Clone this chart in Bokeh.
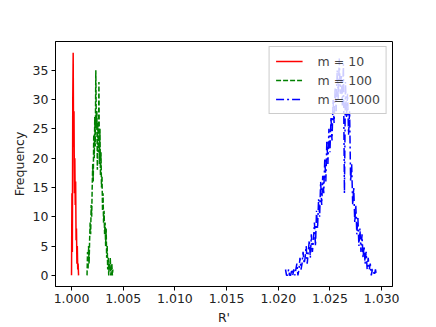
import numpy as np
from bokeh.plotting import figure
from bokeh.models import Range1d, FixedTicker, NumeralTickFormatter, Legend, LegendItem
from bokeh.embed import file_html
from bokeh.resources import INLINE

# ---- data (histogram counts) ----
red_start, red_step = 1.00000, 0.00004
red_counts = [0, 14, 4, 30, 38, 22, 28, 14, 20, 12, 16, 6, 8, 2, 5, 1, 2, 0]

green_start, green_step = 1.00150, 0.00005
green_counts = [0, 4, 1, 5, 2, 6, 9, 7, 12, 10, 15, 19, 16, 24, 20, 27, 22, 35, 25, 28,
                18, 26, 21, 33, 19, 25, 17, 21, 15, 17, 11, 14, 9, 11, 7, 9, 5, 8, 3, 5,
                1, 3, 0, 2, 1, 3, 0, 1, 2, 0, 1]

blue_start, blue_step = 1.02070, 0.00010
blue_counts = [1, 0, 0, 1, 0, 0, 1, 0, 1, 0, 1, 2, 0, 1, 3, 1, 2, 4, 2, 3,
               5, 2, 4, 6, 3, 7, 4, 6, 9, 5, 11, 8, 13, 10, 16, 12, 17, 14, 20, 16,
               23, 19, 25, 21, 27, 23, 30, 26, 32, 28, 35, 30, 37, 31, 34, 29, 36, 14, 33, 27,
               31, 24, 28, 16, 19, 12, 15, 9, 12, 7, 10, 5, 8, 4, 7, 3, 5, 2, 4, 1,
               3, 1, 2, 0, 1, 1, 0, 1, 0]

labels = ["m = 10", "m = 100", "m = 1000"]
colors = ["#ff0000", "#008000", "#0000ff"]
dashes = ["solid", "5 2", "8 3 2 3"]
x_ticks = [1.000, 1.005, 1.010, 1.015, 1.020, 1.025, 1.030]
y_ticks = [0, 5, 10, 15, 20, 25, 30, 35]


def bin_x(start, step, counts):
    return list(start + step * np.arange(len(counts)))


FONT = "DejaVu Sans"
FS = "12.5px"

p = figure(width=436, height=327, output_backend="svg", toolbar_location=None,
           x_range=Range1d(0.99845, 1.03105), y_range=Range1d(-1.9, 39.9),
           min_border_left=55, min_border_right=44, min_border_top=41, min_border_bottom=37)

series = [(red_start, red_step, red_counts), (green_start, green_step, green_counts),
          (blue_start, blue_step, blue_counts)]
items = []
for (st, sp, cnt), lab, col, dsh in zip(series, labels, colors, dashes):
    r = p.line(bin_x(st, sp, cnt), cnt, line_color=col, line_width=1.5, line_dash=dsh)
    items.append(LegendItem(label=lab, renderers=[r]))

p.xgrid.visible = False
p.ygrid.visible = False
p.outline_line_color = "black"
p.outline_line_width = 1
p.background_fill_color = "white"
p.border_fill_color = "white"

p.xaxis.ticker = FixedTicker(ticks=x_ticks)
p.xaxis.formatter = NumeralTickFormatter(format="0.000")
p.yaxis.ticker = FixedTicker(ticks=y_ticks)
for ax in (p.xaxis[0], p.yaxis[0]):
    ax.major_tick_in = 0
    ax.major_tick_out = 4
    ax.minor_tick_line_color = None
    ax.axis_line_color = "black"
    ax.major_tick_line_color = "black"
    ax.major_label_text_font = FONT
    ax.major_label_text_font_size = FS
    ax.major_label_text_color = "#222222"
    ax.axis_label_text_font = FONT
    ax.axis_label_text_font_size = FS
    ax.axis_label_text_font_style = "normal"
    ax.axis_label_text_color = "#222222"
    ax.major_label_standoff = 3
p.xaxis.axis_label = "R'"
p.yaxis.axis_label = "Frequency"
p.xaxis.axis_label_standoff = 4
p.yaxis.axis_label_standoff = 3

legend = Legend(items=items, location="top_right", margin=5,
                label_text_font=FONT, label_text_font_size=FS,
                glyph_width=27, glyph_height=16, label_standoff=15,
                spacing=3, padding=6,
                border_line_color="#cccccc", border_line_alpha=1,
                background_fill_alpha=0.8)
p.add_layout(legend)

open("out.html", "w").write(file_html(p, INLINE))
